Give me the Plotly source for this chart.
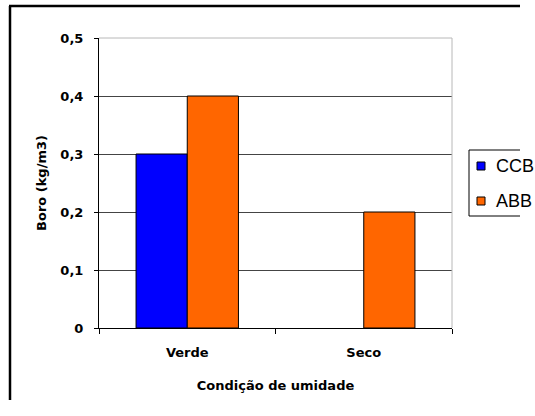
import plotly.graph_objects as go

# Boron retention by moisture condition
categories = ["Verde", "Seco"]
series_names = ["CCB", "ABB"]
ccb_values = [0.3, None]
abb_values = [0.4, 0.2]
y_tick_values = [0, 0.1, 0.2, 0.3, 0.4, 0.5]
y_tick_labels = ["0", "0,1", "0,2", "0,3", "0,4", "0,5"]

colors = {"CCB": "#0000FF", "ABB": "#FF6600"}

W, H = 535, 416
L, R, T, B = 99, 452, 38, 328  # plot area edges in pixels
FONT = "DejaVu Sans, Verdana, sans-serif"
LEGEND_FONT = "Liberation Sans, Arial, sans-serif"


def px(x):
    return (x - L) / (R - L)


def py(y):
    return (B - y) / (B - T)


def hline(x0, x1, y, color, width):
    return dict(type="line", xref="paper", yref="paper",
                x0=px(x0), x1=px(x1), y0=py(y), y1=py(y),
                line=dict(color=color, width=width))


def vline(x, y0, y1, color, width):
    return dict(type="line", xref="paper", yref="paper",
                x0=px(x), x1=px(x), y0=py(y0), y1=py(y1),
                line=dict(color=color, width=width))


fig = go.Figure()
for name, vals in zip(series_names, [ccb_values, abb_values]):
    fig.add_trace(go.Bar(
        x=categories, y=vals, name=name,
        marker=dict(color=colors[name], line=dict(color="#000000", width=1)),
        showlegend=False,
    ))

shapes = [
    # outer chart frame, left and top sides
    hline(9, 520, 6, "#000000", 2.5),
    vline(10, 6, 400, "#000000", 2.5),
    # plot area border (top and right)
    hline(L, R, T, "#b8b8b8", 1),
    vline(R, T, B, "#b8b8b8", 1),
    # legend box
    hline(469, 520, 150, "#000000", 1),
    hline(469, 520, 216, "#000000", 1),
    vline(469, 150, 216, "#000000", 1),
]
annotations = []
for i, name in enumerate(series_names):
    cy = 166 + i * 35
    shapes.append(dict(type="rect", xref="paper", yref="paper",
                       x0=px(477), x1=px(485), y0=py(cy + 4), y1=py(cy - 4),
                       line=dict(color="#000000", width=1),
                       fillcolor=colors[name]))
    annotations.append(dict(xref="paper", yref="paper", x=px(494), y=py(cy),
                            xanchor="left", yanchor="middle", showarrow=False,
                            text=name, font=dict(family=LEGEND_FONT, size=18,
                                                 color="#000000")))

fig.update_layout(
    width=W, height=H,
    margin=dict(l=L, r=W - R, t=T, b=H - B),
    paper_bgcolor="#ffffff", plot_bgcolor="#ffffff",
    barmode="group", bargap=0.42, bargroupgap=0,
    font=dict(family=FONT, size=13, color="#000000"),
    shapes=shapes, annotations=annotations,
    xaxis=dict(
        type="category",
        showline=True, linecolor="#000000", linewidth=1,
        ticks="outside", tickson="boundaries", ticklen=5,
        tickcolor="#000000", ticklabelstandoff=12,
        tickfont=dict(family=FONT, size=13, color="#000000", weight="bold"),
        showgrid=False,
        title=dict(text="<b>Condição de umidade</b>", standoff=22,
                   font=dict(family=FONT, size=13, color="#000000")),
    ),
    yaxis=dict(
        range=[0, 0.5],
        tickvals=y_tick_values, ticktext=y_tick_labels,
        showline=True, linecolor="#000000", linewidth=1,
        ticks="outside", ticklen=4, tickcolor="#000000",
        ticklabelstandoff=8,
        tickfont=dict(family=FONT, size=13, color="#000000", weight="bold"),
        showgrid=True, gridcolor="#444444", gridwidth=1,
        zeroline=False,
        title=dict(text="<b>Boro (kg/m3)</b>", standoff=10,
                   font=dict(family=FONT, size=13, color="#000000")),
    ),
)

fig.write_html("out.html")
